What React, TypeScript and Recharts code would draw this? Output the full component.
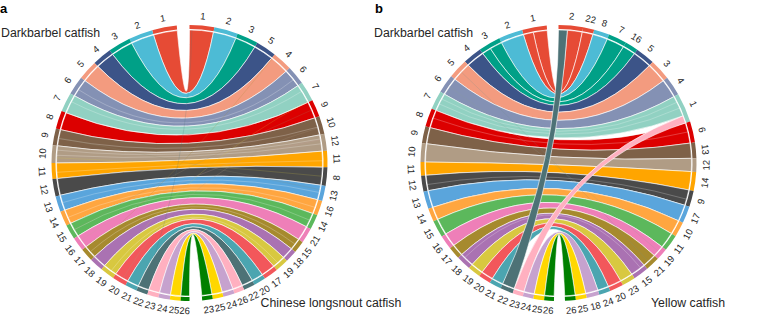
import React from 'react';
import { PieChart, Pie, Customized } from 'recharts';

const FONT = '"Liberation Sans", Arial, sans-serif';
const INK = '#262626';

const leftColors = ['#E64B35','#4DBBD5','#00A087','#3C5488','#F39B7F','#8491B4','#91D1C2','#DC0000','#7E6148','#B09C85','#FFA500','#4A4A4A','#5AA5DC','#FFA640','#5CB85C','#EE7FB8','#A68A2E','#AA72B2','#D8C840','#F2575B','#4BA5B0','#4D7276','#FFB0C0','#C6A2CE','#FFD700','#008000'];
const leftLabels = Array.from({ length: 26 }, (_, i) => String(i + 1));

const leftSizesA = [10.4,10.1,9.5,8.2,8.3,7.9,8.2,7.6,7.1,7.4,6.7,7.3,6.7,6.2,6.3,5.8,5.6,5.8,6,6,5,4.8,4.8,4.8,4.5,3.7];
const rightLabelsA = ['1','2','3','5','4','6','7','9','10','12','11','8','13','16','14','21','15','18','19','17','20','22','26','24','25','23'];
const rightSizesA = [10.4,10,9,8.7,8.4,8,8.4,7.3,7.6,7.1,6.9,7.8,6.4,6.3,6.3,6.4,5.1,5,5.7,6.1,5,4.8,4.3,4.8,4.5,4.4];
const rightOwnerA = [1,2,3,4,5,6,7,8,9,10,11,12,13,14,15,16,17,18,19,20,21,22,23,24,25,26];

const leftSizesB = [10.4,10.1,9.3,8,8.4,7.8,7.9,7.8,7.1,7.9,5.7,6.7,7.4,5.6,7.2,6,5.2,6.2,5.4,5.2,5,5.4,4.4,4.5,4.5,4.1];
const rightLabelsB = ['2','22','8','7','16','5','3','4','1','6','13','12','14','9','17','10','11','19','21','15','23','20','24','18','25','26'];
const rightSizesB = [10.3,4.7,6.5,7.7,5.6,8.2,8.9,8.2,12.4,8.9,6.6,5.7,8,6.8,7.2,6.3,7,5,6,6.6,5.6,5.8,4.8,5.4,4.6,4.5];
const rightOwnerB = [1,1,2,3,3,4,5,6,7,8,9,10,11,12,13,14,15,16,17,18,19,20,21,24,25,26];

// [left chromosome, right label, left share from, to, right share from, to]
type Link = [number, string, number, number, number, number];
const linksB: Link[] = [
  [1,'2',0,0.58,0.37,1],[1,'22',0.58,1,0,1],[2,'8',0,1,0,1],[3,'7',0,0.58,0,1],[3,'16',0.58,1,0,1],
  [4,'5',0,1,0,1],[5,'3',0,1,0,1],[6,'4',0,1,0,1],[7,'1',0,1,0,0.74],
  [8,'6',0,1,0,1],[9,'13',0,1,0,1],[10,'12',0,1,0,1],[11,'14',0,1,0,1],
  [12,'9',0,1,0,1],[13,'17',0,1,0,1],[14,'10',0,1,0,1],[15,'11',0,1,0,1],
  [16,'19',0,1,0,1],[17,'21',0,1,0,1],[18,'15',0,1,0,1],[19,'23',0,1,0,1],
  [20,'20',0,1,0,1],[21,'24',0,1,0,1],[22,'2',0,1,0,0.37],[23,'1',0,1,0.74,1],[24,'18',0,1,0,1],
  [25,'25',0,1,0,1],[26,'26',0,1,0,1],
];
const linksA: Link[] = rightLabelsA.map((r, i): Link => [i + 1, r, 0, 1, 0, 1]);

// shares inside a ribbon where a faint seam runs
const seamsA: Record<number, number[]> = { 6:[0.6], 7:[0.35], 9:[0.55], 10:[0.25,0.55], 11:[0.6], 13:[0.5], 14:[0.55], 15:[0.5], 17:[0.5], 19:[0.6] };
const seamsB: Record<number, number[]> = { 7:[0.3,0.6], 8:[0.45], 12:[0.6], 18:[0.3] };

// [left chromosome, share, right label, share, colour]
type Thin = [number, number, string, number, string];
const thinA: Thin[] = [
  [17,0.5,'4',0.04,'#A68A2E'],[19,0.5,'7',0.96,'#D8C840'],[16,0.4,'12',0.3,'#C9A0A0'],[22,0.5,'1',0.1,'#4D7276'],
  [9,0.5,'13',0.3,'#8a8a70'],[10,0.7,'8',0.5,'#D8C840'],[15,0.5,'9',0.5,'#9a8a70'],[20,0.6,'10',0.6,'#B09C85'],
];
const thinB: Thin[] = [
  [5,0.5,'21',0.6,'#6F8F8A'],[6,0.5,'19',0.5,'#8A9F98'],
];

const CX_A = 189.5, CX_B = 558.5, CY = 163;
const RING_IN = 134, RING_OUT = 138, RIB = 133, LABEL_R = 147.5;

const edges = (sizes: number[], start: number) => {
  const out = [start];
  sizes.forEach((s) => out.push(out[out.length - 1] + s));
  return out;
};
const rad = (d: number) => (d * Math.PI) / 180;

type Panel = {
  cx: number; leftStart: number; rightStart: number; leftSizes: number[]; rightSizes: number[];
  rightLabels: string[]; rightOwner: number[]; links: Link[]; thin: Thin[]; seams: Record<number, number[]>;
};
const panels: Panel[] = [
  { cx: CX_A, leftStart: 5.3, rightStart: 0, leftSizes: leftSizesA, rightSizes: rightSizesA, rightLabels: rightLabelsA, rightOwner: rightOwnerA, links: linksA, thin: thinA, seams: seamsA },
  { cx: CX_B, leftStart: 4.9, rightStart: 0, leftSizes: leftSizesB, rightSizes: rightSizesB, rightLabels: rightLabelsB, rightOwner: rightOwnerB, links: linksB, thin: thinB, seams: seamsB },
];

const sum = (a: number[]) => a.reduce((x, y) => x + y, 0);

function Ribbons({ p }: { p: Panel }) {
  const le = edges(p.leftSizes, p.leftStart);
  const re = edges(p.rightSizes, p.rightStart);
  const lp = (d: number) => [p.cx - RIB * Math.sin(rad(d)), CY - RIB * Math.cos(rad(d))];
  const rp = (d: number) => [p.cx + RIB * Math.sin(rad(d)), CY - RIB * Math.cos(rad(d))];
  const control = (a: number[], b: number[]) => {
    const mx = (a[0] + b[0]) / 2 - p.cx, my = (a[1] + b[1]) / 2 - CY;
    const q = (mx * mx + my * my) / (RIB * RIB);
    return [p.cx + mx * q * 0.08, CY + my * q * 0.08];
  };
  const angles = (l: number, lf: number, r: string, rf: number) => {
    const ri = p.rightLabels.indexOf(r);
    return [le[l - 1] + p.leftSizes[l - 1] * lf, re[ri] + p.rightSizes[ri] * rf];
  };
  return (
    <g>
      {p.links.map(([l, r, l0, l1, r0, r1], i) => {
        const [a0, b0] = angles(l, l0, r, r0);
        const [a1, b1] = angles(l, l1, r, r1);
        const A0 = lp(a0), A1 = lp(a1), B0 = rp(b0), B1 = rp(b1);
        const c0 = control(A0, B0), c1 = control(A1, B1);
        const d = `M${A0[0]},${A0[1]} Q${c0[0]},${c0[1]} ${B0[0]},${B0[1]} A${RIB},${RIB} 0 0 1 ${B1[0]},${B1[1]} Q${c1[0]},${c1[1]} ${A1[0]},${A1[1]} A${RIB},${RIB} 0 0 1 ${A0[0]},${A0[1]} Z`;
        const seam = (p.seams[l] || []).map((f, k) => {
          const [a, b] = angles(l, l0 + (l1 - l0) * f, r, r0 + (r1 - r0) * f);
          const A = lp(a), B = rp(b), c = control(A, B);
          return <path key={k} d={`M${A[0]},${A[1]} Q${c[0]},${c[1]} ${B[0]},${B[1]}`} fill="none" stroke="#fff" strokeWidth={0.4} strokeOpacity={0.6} />;
        });
        return (
          <g key={i}>
            <path d={d} fill={leftColors[l - 1]} stroke="#fff" strokeWidth={0.6} />
            {seam}
          </g>
        );
      })}
      {p.thin.map(([l, lf, r, rf, col], i) => {
        const [a, b] = angles(l, lf, r, rf);
        const A = lp(a), B = rp(b), c = control(A, B);
        return <path key={i} d={`M${A[0]},${A[1]} Q${c[0]},${c[1]} ${B[0]},${B[1]}`} fill="none" stroke={col} strokeWidth={0.4} strokeOpacity={0.5} />;
      })}
    </g>
  );
}

const tickLabel = (cx: number) => (props: any) => {
  const m = props.midAngle as number;
  const x = cx + LABEL_R * Math.cos(rad(m));
  const y = CY - LABEL_R * Math.sin(rad(m));
  const t = ((90 - m) % 360 + 360) % 360;
  const rot = t < 90 || t > 270 ? t : t - 180;
  return (
    <text x={x} y={y} transform={`rotate(${rot} ${x} ${y})`} textAnchor="middle" dominantBaseline="central"
      fontFamily={FONT} fontSize={9.5} fill={INK}>{props.payload?.name ?? props.name}</text>
  );
};

const captions: [string, number, number, number, string][] = [
  ['a', 0, 12.5, 13, 'bold'],
  ['b', 375, 13, 13, 'bold'],
  ['Darkbarbel catfish', 1, 36.5, 12.3, 'normal'],
  ['Darkbarbel catfish', 374, 36.5, 12.3, 'normal'],
  ['Chinese longsnout catfish', 260.5, 306.5, 12.3, 'normal'],
  ['Yellow catfish', 651, 306.5, 12.3, 'normal'],
];

export default function App() {
  return (
    <div style={{ position: 'absolute', left: 0, top: 0, width: 760, height: 322, background: '#fff' }}>
      <PieChart width={760} height={322} margin={{ top: 0, right: 0, bottom: 0, left: 0 }}>
        <Customized component={() => <g>{panels.map((p, i) => <Ribbons key={i} p={p} />)}</g>} />
        {panels.flatMap((p, i) => {
          const leftData = leftLabels.map((name, k) => ({ name, value: p.leftSizes[k], fill: leftColors[k] }));
          const rightData = p.rightLabels.map((name, k) => ({ name, value: p.rightSizes[k], fill: leftColors[p.rightOwner[k] - 1] }));
          return [
            <Pie key={`l${i}`} data={leftData} dataKey="value" nameKey="name" cx={p.cx} cy={CY}
              innerRadius={RING_IN} outerRadius={RING_OUT} startAngle={90 + p.leftStart} endAngle={90 + p.leftStart + sum(p.leftSizes)}
              stroke="none" isAnimationActive={false} labelLine={false} label={tickLabel(p.cx)} />,
            <Pie key={`r${i}`} data={rightData} dataKey="value" nameKey="name" cx={p.cx} cy={CY}
              innerRadius={RING_IN} outerRadius={RING_OUT} startAngle={90 - p.rightStart} endAngle={90 - p.rightStart - sum(p.rightSizes)}
              stroke="none" isAnimationActive={false} labelLine={false} label={tickLabel(p.cx)} />,
          ];
        })}
        <Customized component={() => (
          <g>
            {captions.map(([t, x, y, s, w], i) => (
              <text key={i} x={x} y={y} fontFamily={FONT} fontSize={s} fontWeight={w} fill={i < 2 ? '#000' : INK}>{t}</text>
            ))}
          </g>
        )} />
      </PieChart>
    </div>
  );
}
